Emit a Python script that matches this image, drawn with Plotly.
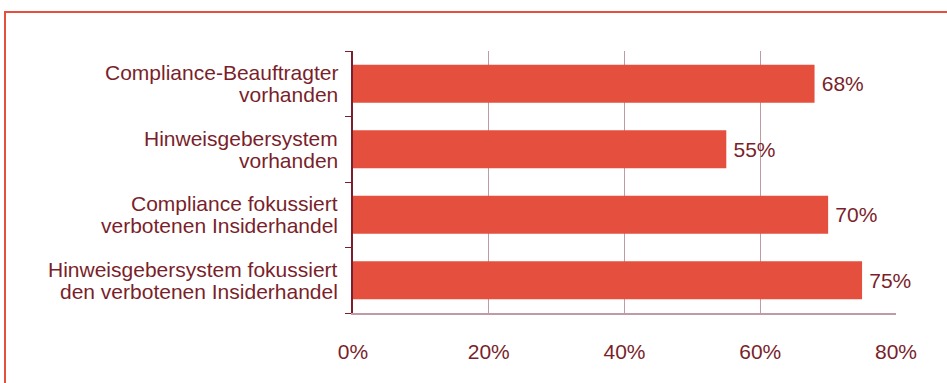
import plotly.graph_objects as go

categories = [
    "Compliance-Beauftragter<br>vorhanden",
    "Hinweisgebersystem<br>vorhanden",
    "Compliance fokussiert<br>verbotenen Insiderhandel",
    "Hinweisgebersystem fokussiert<br>den verbotenen Insiderhandel",
]
values = [68, 55, 70, 75]
x_ticks = [0, 20, 40, 60, 80]
x_tick_labels = ["0%", "20%", "40%", "60%", "80%"]

TEXT = "#7a1f2b"
BAR = "#e4503d"
GRID = "#c09aa5"
FONT = "Liberation Sans, Arial, sans-serif"
FS = 21

fig = go.Figure(go.Bar(
    y=categories,
    x=values,
    orientation="h",
    marker=dict(color=BAR, line=dict(width=0)),
    width=0.58,
    text=[f"\u2009{v}%" for v in values],
    textposition="outside",
    textfont=dict(color=TEXT, size=FS, family=FONT),
    cliponaxis=False,
))

# category labels drawn as tight two-line annotations
annotations = []
for cat in categories:
    lines = cat.split("<br>")
    n = len(lines)
    for i, line in enumerate(lines):
        annotations.append(dict(
            xref="paper", yref="y", x=0, y=cat,
            text=line, showarrow=False,
            xanchor="right", yanchor="middle",
            xshift=-13, yshift=(n - 1) * 11 - i * 22,
            font=dict(size=FS, color=TEXT, family=FONT),
        ))

fig.update_layout(
    width=947, height=383,
    margin=dict(l=353, r=51, t=51, b=70),
    paper_bgcolor="white",
    plot_bgcolor="white",
    showlegend=False,
    font=dict(family=FONT, color=TEXT, size=FS),
    annotations=annotations,
    shapes=[dict(type="rect", xref="paper", yref="paper",
                 x0=(5 - 353) / 543, x1=1.2, y0=-0.5, y1=(383 - 12 - 70) / 262,
                 line=dict(color=BAR, width=2), layer="below")],
)
fig.update_xaxes(
    range=[0, 80],
    tickvals=x_ticks, ticktext=x_tick_labels,
    showgrid=True, gridcolor=GRID, gridwidth=1,
    showline=True, linecolor=GRID, linewidth=1.5,
    zeroline=False,
    ticks="", ticklabelstandoff=19,
    tickfont=dict(size=FS, color=TEXT, family=FONT),
)
fig.update_yaxes(
    categoryorder="array", categoryarray=categories[::-1],
    showline=True, linecolor=TEXT, linewidth=1.5,
    ticks="outside", tickson="boundaries", ticklen=6, tickcolor=TEXT, tickwidth=1,
    showticklabels=False,
    showgrid=False,
)

fig.write_html("out.html")
